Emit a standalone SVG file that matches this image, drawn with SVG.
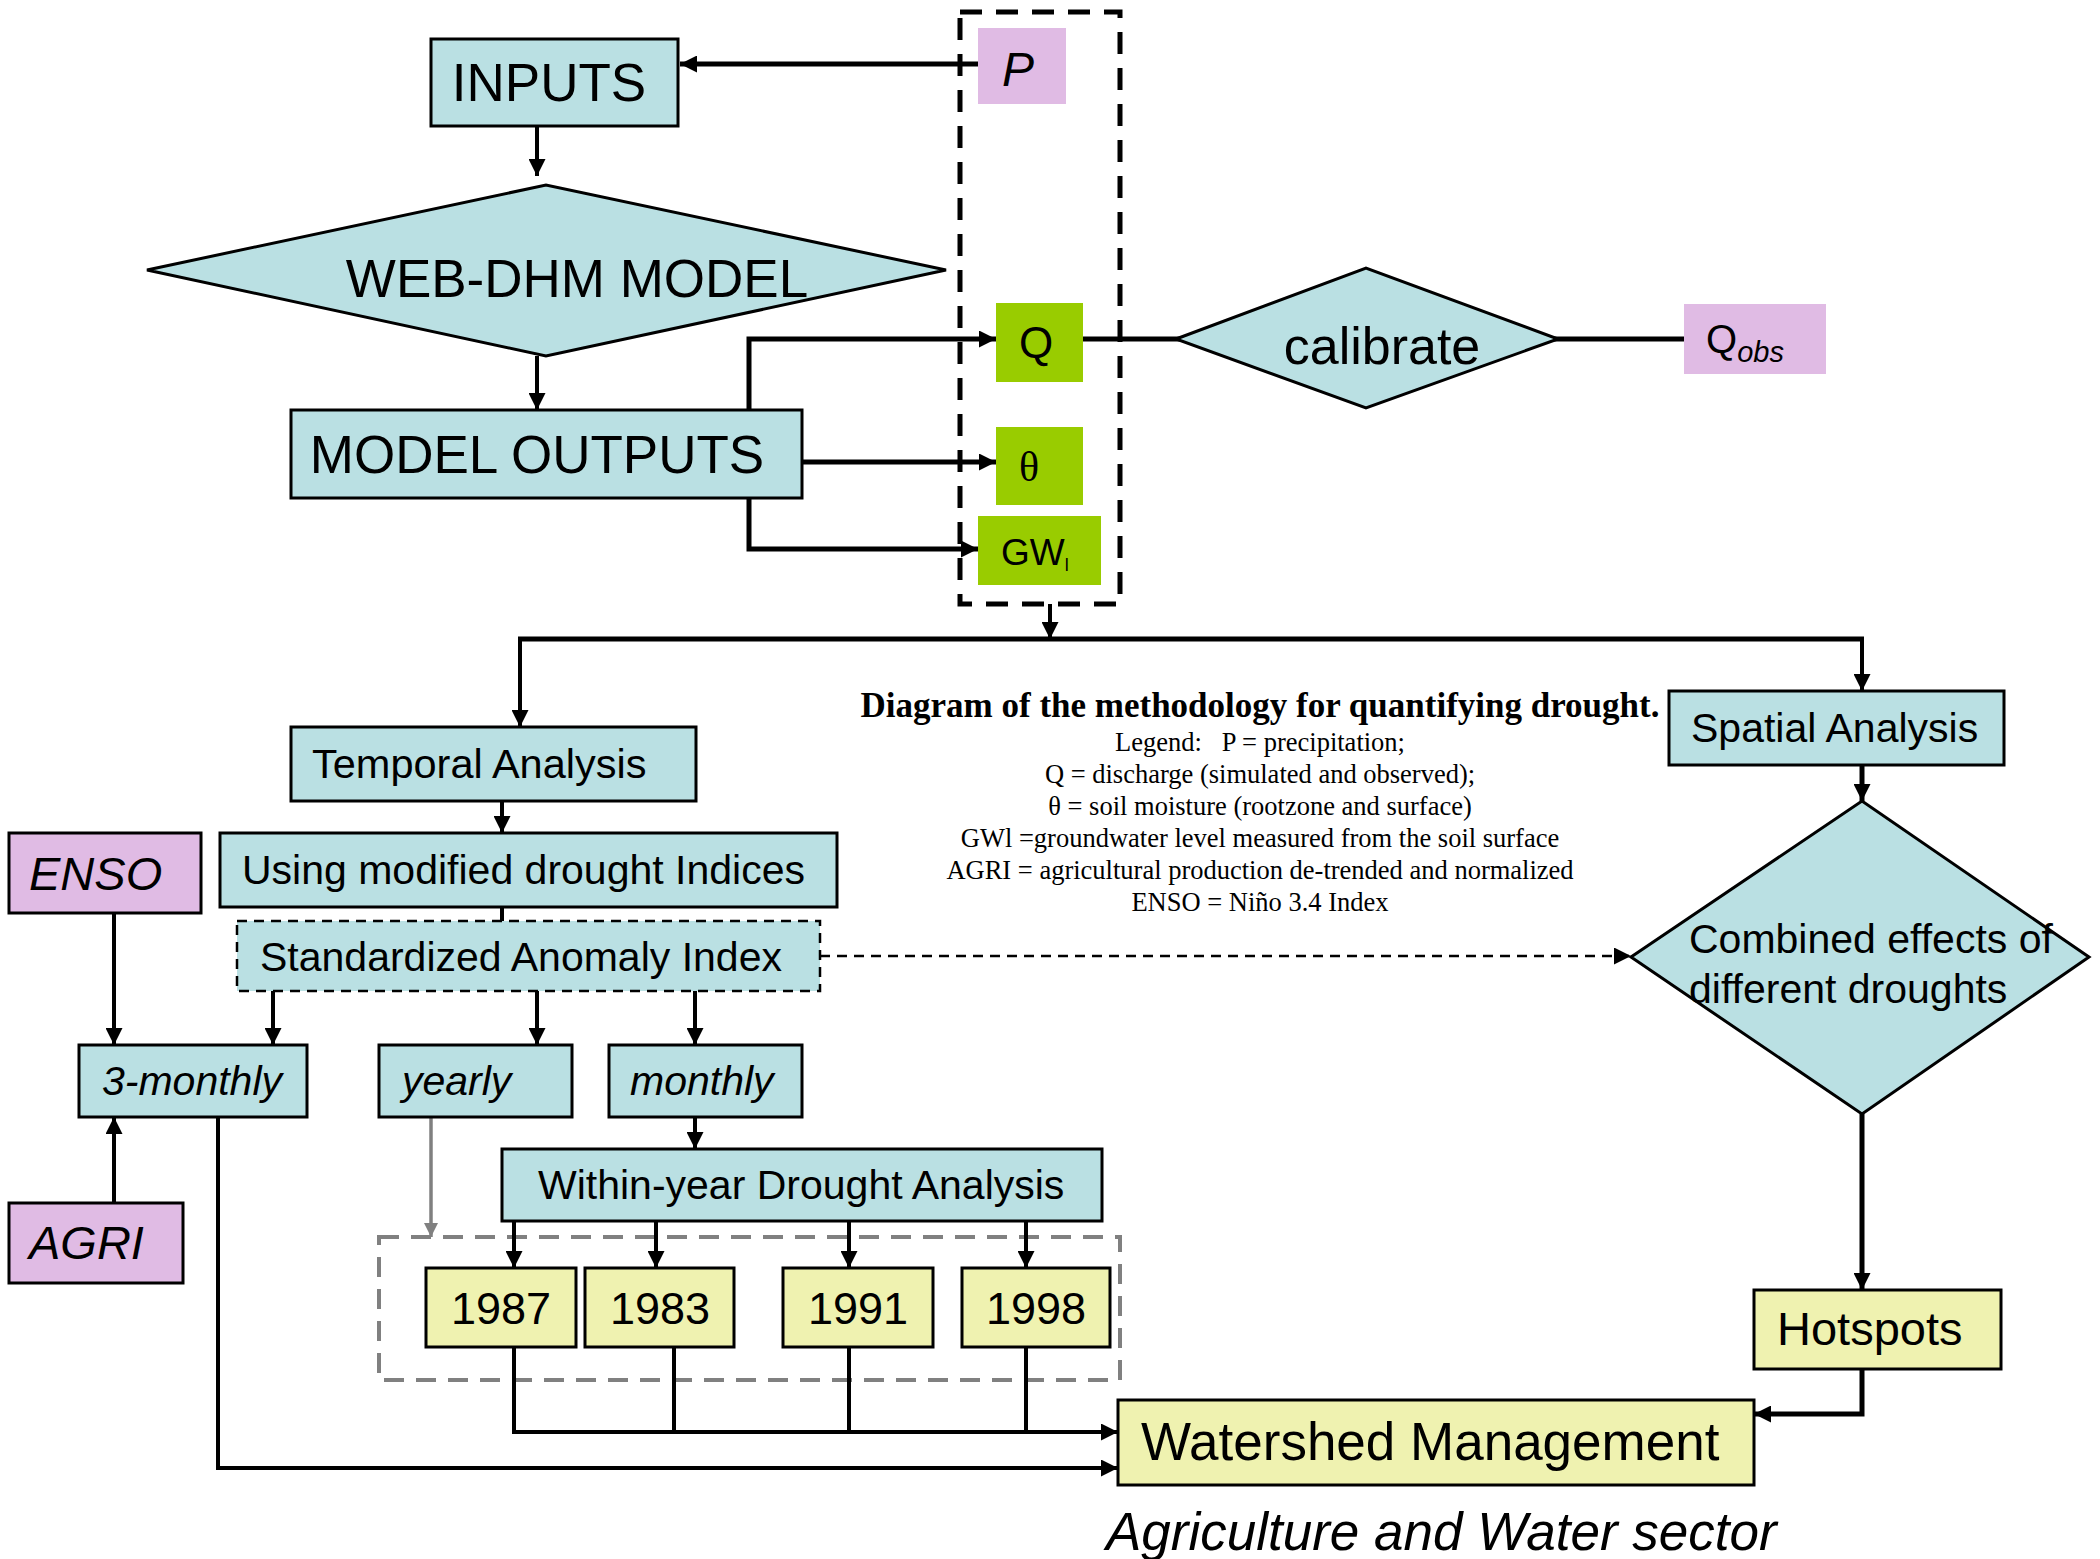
<svg xmlns="http://www.w3.org/2000/svg" width="2100" height="1559" viewBox="0 0 2100 1559">
<defs>
<marker id="arr" viewBox="0 0 10 10" refX="10" refY="5" markerWidth="19" markerHeight="17" markerUnits="userSpaceOnUse" orient="auto"><path d="M0,0 L10,5 L0,10 z" fill="#000"/></marker>
<marker id="arrg" viewBox="0 0 10 10" refX="10" refY="5" markerWidth="16" markerHeight="14" markerUnits="userSpaceOnUse" orient="auto"><path d="M0,0 L10,5 L0,10 z" fill="#808080"/></marker>
<style>
.b{fill:#BAE0E3;stroke:#000;stroke-width:3}
.y{fill:#EFF2B0;stroke:#000;stroke-width:3}
.p{fill:#E0BBE4;stroke:#000;stroke-width:3}
.pn{fill:#E0BBE4}
.g{fill:#99CC00}
.t{font-family:"Liberation Sans",Arial,sans-serif;fill:#000}
.ti{font-family:"Liberation Sans",Arial,sans-serif;font-style:italic;fill:#000}
.tm{font-family:"Liberation Serif","Times New Roman",serif;fill:#000}
.c{fill:none;stroke:#000;stroke-width:4}
.ck{fill:none;stroke:#000;stroke-width:5}
</style>
</defs>
<rect width="2100" height="1559" fill="#fff"/>

<g id="input-group-box">
<rect x="960" y="12" width="160" height="592" fill="none" stroke="#000" stroke-width="5" stroke-dasharray="22 14"/>
</g>
<g id="years-box">
<rect x="379" y="1237" width="741" height="143" fill="none" stroke="#808080" stroke-width="4" stroke-dasharray="20 12"/>
</g>

<g id="connectors">
<line class="ck" x1="978" y1="64" x2="680" y2="64" marker-end="url(#arr)"/>
<line class="c" x1="537" y1="126" x2="537" y2="176" marker-end="url(#arr)"/>
<line class="c" x1="537" y1="356" x2="537" y2="410" marker-end="url(#arr)"/>
<polyline class="ck" points="749,410 749,339 996,339" marker-end="url(#arr)"/>
<line class="ck" x1="802" y1="462" x2="996" y2="462" marker-end="url(#arr)"/>
<polyline class="ck" points="749,480 749,549 978,549" marker-end="url(#arr)"/>
<line class="ck" x1="1083" y1="339" x2="1180" y2="339"/>
<line class="ck" x1="1554" y1="339" x2="1684" y2="339"/>
<line class="c" x1="1050" y1="604" x2="1050" y2="639" marker-end="url(#arr)"/>
<line class="ck" x1="518" y1="639" x2="1864" y2="639"/>
<line class="c" x1="520" y1="639" x2="520" y2="727" marker-end="url(#arr)"/>
<line class="c" x1="1862" y1="639" x2="1862" y2="691" marker-end="url(#arr)"/>
<line class="c" x1="502" y1="801" x2="502" y2="833" marker-end="url(#arr)"/>
<line class="c" x1="502" y1="907" x2="502" y2="921"/>
<line class="c" x1="273" y1="991" x2="273" y2="1045" marker-end="url(#arr)"/>
<line class="c" x1="537" y1="991" x2="537" y2="1045" marker-end="url(#arr)"/>
<line class="c" x1="695" y1="991" x2="695" y2="1045" marker-end="url(#arr)"/>
<line x1="820" y1="956" x2="1631" y2="956" stroke="#000" stroke-width="2.5" stroke-dasharray="10 7" marker-end="url(#arr)"/>
<line class="c" x1="114" y1="913" x2="114" y2="1045" marker-end="url(#arr)"/>
<line class="c" x1="114" y1="1203" x2="114" y2="1117" marker-end="url(#arr)"/>
<polyline class="c" points="218,1110 218,1468 1118,1468" marker-end="url(#arr)"/>
<line x1="431" y1="1117" x2="431" y2="1237" stroke="#808080" stroke-width="3.5" marker-end="url(#arrg)"/>
<line class="c" x1="695" y1="1117" x2="695" y2="1149" marker-end="url(#arr)"/>
<line class="c" x1="514" y1="1221" x2="514" y2="1268" marker-end="url(#arr)"/>
<line class="c" x1="656" y1="1221" x2="656" y2="1268" marker-end="url(#arr)"/>
<line class="c" x1="849" y1="1221" x2="849" y2="1268" marker-end="url(#arr)"/>
<line class="c" x1="1026" y1="1221" x2="1026" y2="1268" marker-end="url(#arr)"/>
<polyline class="c" points="514,1347 514,1432 1118,1432" marker-end="url(#arr)"/>
<line class="c" x1="674" y1="1347" x2="674" y2="1432"/>
<line class="c" x1="849" y1="1347" x2="849" y2="1432"/>
<line class="c" x1="1026" y1="1347" x2="1026" y2="1432"/>
<line class="ck" x1="1862" y1="765" x2="1862" y2="801" marker-end="url(#arr)"/>
<line class="ck" x1="1862" y1="1114" x2="1862" y2="1290" marker-end="url(#arr)"/>
<polyline class="ck" points="1862,1369 1862,1414 1754,1414" marker-end="url(#arr)"/>
</g>

<g id="P"><rect class="pn" x="978" y="28" width="88" height="76"/><text class="ti" x="1002" y="86" font-size="48">P</text></g>
<g id="inputs"><rect class="b" x="431" y="39" width="247" height="87"/><text class="t" x="549" y="101" font-size="53" text-anchor="middle">INPUTS</text></g>
<g id="webdhm"><polygon class="b" points="147,270 546,185 946,270 546,356"/><text class="t" x="577" y="297" font-size="53" text-anchor="middle">WEB-DHM MODEL</text></g>
<g id="model-outputs"><rect class="b" x="291" y="410" width="511" height="88"/><text class="t" x="537" y="473" font-size="53" text-anchor="middle">MODEL OUTPUTS</text></g>
<g id="Q"><rect class="g" x="996" y="303" width="87" height="79"/><text class="t" x="1036" y="358" font-size="44" text-anchor="middle">Q</text></g>
<g id="theta"><rect class="g" x="996" y="427" width="87" height="78"/><text class="tm" x="1029" y="481" font-size="42" text-anchor="middle">θ</text></g>
<g id="GWl"><rect class="g" x="978" y="516" width="123" height="69"/><text class="t" x="1001" y="565" font-size="37">GW<tspan font-size="18" dy="6">l</tspan></text></g>
<g id="calibrate"><polygon class="b" points="1176,339 1366,268 1558,339 1366,408"/><text class="t" x="1382" y="364" font-size="52" text-anchor="middle">calibrate</text></g>
<g id="Qobs"><rect class="pn" x="1684" y="304" width="142" height="70"/><text class="t" x="1706" y="353" font-size="40">Q<tspan class="ti" font-size="29" dy="9">obs</tspan></text></g>

<g id="legend" class="tm" text-anchor="middle">
<text x="1260" y="717" font-size="35" font-weight="bold">Diagram of the methodology for quantifying drought.</text>
<text x="1260" y="751" font-size="26.5" xml:space="preserve">Legend:   P = precipitation;</text>
<text x="1260" y="783" font-size="26.5">Q = discharge (simulated and observed);</text>
<text x="1260" y="815" font-size="26.5">θ = soil moisture (rootzone and surface)</text>
<text x="1260" y="847" font-size="26.5">GWl =groundwater level measured from the soil surface</text>
<text x="1260" y="879" font-size="26.5">AGRI = agricultural production de-trended and normalized</text>
<text x="1260" y="911" font-size="26.5">ENSO = Niño 3.4 Index</text>
</g>

<g id="temporal"><rect class="b" x="291" y="727" width="405" height="74"/><text class="t" x="312" y="778" font-size="41.5">Temporal Analysis</text></g>
<g id="using"><rect class="b" x="220" y="833" width="617" height="74"/><text class="t" x="242" y="884" font-size="41">Using modified drought Indices</text></g>
<g id="sai"><rect x="237" y="921" width="583" height="70" fill="#BAE0E3" stroke="#000" stroke-width="2.5" stroke-dasharray="10 7"/><text class="t" x="260" y="971" font-size="41">Standardized Anomaly Index</text></g>
<g id="enso"><rect class="p" x="9" y="833" width="192" height="80"/><text class="ti" x="29" y="890" font-size="47">ENSO</text></g>
<g id="three-monthly"><rect class="b" x="79" y="1045" width="228" height="72"/><text class="ti" x="102" y="1095" font-size="41">3-monthly</text></g>
<g id="yearly"><rect class="b" x="379" y="1045" width="193" height="72"/><text class="ti" x="402" y="1095" font-size="41">yearly</text></g>
<g id="monthly"><rect class="b" x="609" y="1045" width="193" height="72"/><text class="ti" x="630" y="1095" font-size="41">monthly</text></g>
<g id="agri"><rect class="p" x="9" y="1203" width="174" height="80"/><text class="ti" x="29" y="1259" font-size="47">AGRI</text></g>
<g id="within-year"><rect class="b" x="502" y="1149" width="600" height="72"/><text class="t" x="538" y="1199" font-size="41">Within-year Drought Analysis</text></g>
<g id="y1987"><rect class="y" x="426" y="1268" width="150" height="79"/><text class="t" x="501" y="1324" font-size="45" text-anchor="middle">1987</text></g>
<g id="y1983"><rect class="y" x="585" y="1268" width="149" height="79"/><text class="t" x="660" y="1324" font-size="45" text-anchor="middle">1983</text></g>
<g id="y1991"><rect class="y" x="783" y="1268" width="150" height="79"/><text class="t" x="858" y="1324" font-size="45" text-anchor="middle">1991</text></g>
<g id="y1998"><rect class="y" x="962" y="1268" width="148" height="79"/><text class="t" x="1036" y="1324" font-size="45" text-anchor="middle">1998</text></g>
<g id="spatial"><rect class="b" x="1669" y="691" width="335" height="74"/><text class="t" x="1691" y="742" font-size="41">Spatial Analysis</text></g>
<g id="combined"><polygon class="b" points="1631,957 1862,801 2089,957 1862,1114"/><text class="t" x="1689" y="953" font-size="41">Combined effects of</text><text class="t" x="1689" y="1003" font-size="41">different droughts</text></g>
<g id="hotspots"><rect class="y" x="1754" y="1290" width="247" height="79"/><text class="t" x="1777" y="1345" font-size="47">Hotspots</text></g>
<g id="watershed"><rect class="y" x="1118" y="1400" width="636" height="85"/><text class="t" x="1141" y="1460" font-size="53">Watershed Management</text></g>
<text class="ti" x="1106" y="1550" font-size="53">Agriculture and Water sector</text>
</svg>
